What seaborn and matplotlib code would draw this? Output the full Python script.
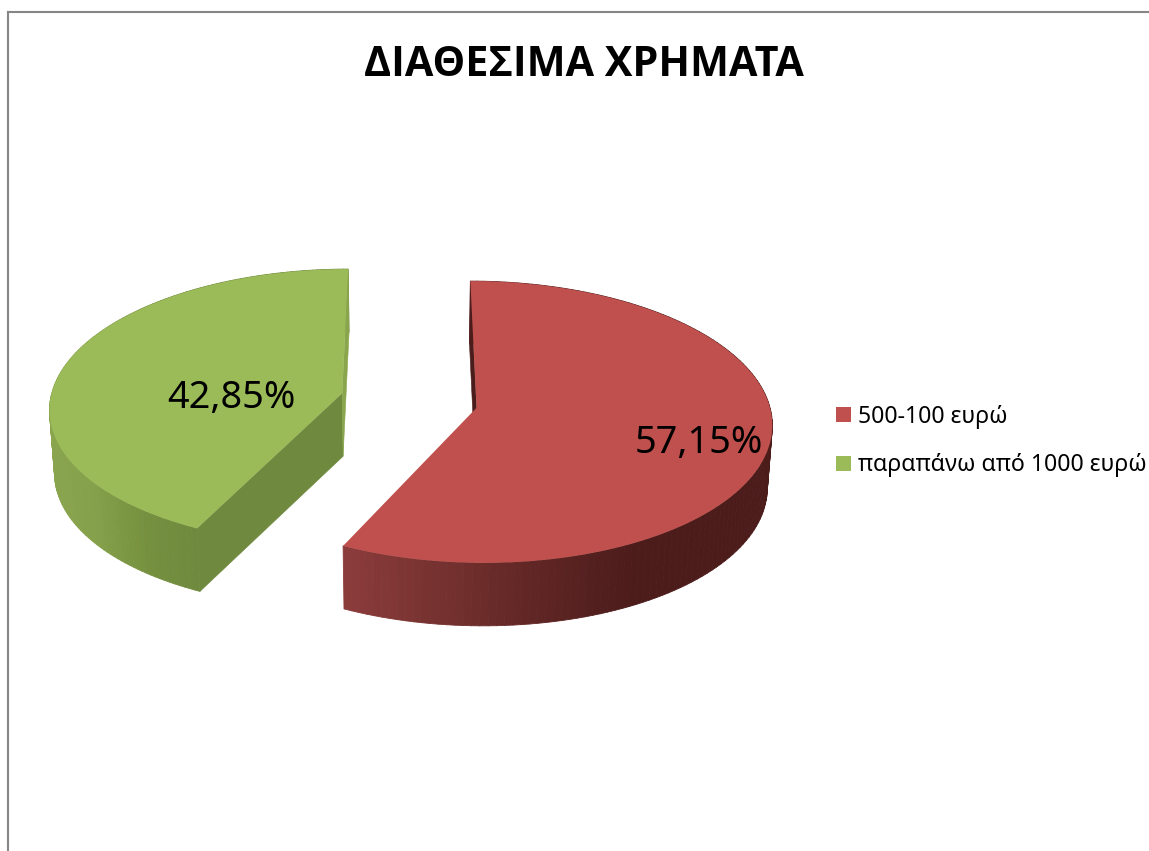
import numpy as np
import matplotlib
matplotlib.use("Agg")
import matplotlib.pyplot as plt
import seaborn as sns
from matplotlib.collections import PolyCollection
from matplotlib.colors import LinearSegmentedColormap, Normalize
from matplotlib.transforms import Transform

categories = ["500-100 ευρώ", "παραπάνω από 1000 ευρώ"]
shares = [57.15, 42.85]
title = "ΔΙΑΘΕΣΙΜΑ ΧΡΗΜΑΤΑ"

colors = sns.color_palette(["#bf504d", "#9bbb59"])
cx, cy = 409, 400.5
ra, rb = 292, 138
tilt = 0.10
depth = 63
shrink = 0.986


def project(xy, low=False):
    xy = np.asarray(xy, dtype=float)
    w = 1 + tilt * xy[:, 1]
    s = shrink if low else 1.0
    dy = depth if low else 0
    return np.column_stack([cx + ra * s * xy[:, 0] / w, cy - rb * xy[:, 1] / w + dy])


class Tilted(Transform):
    input_dims = 2
    output_dims = 2
    is_affine = False

    def transform_non_affine(self, values):
        return project(values)


def rim(wedge, theta):
    t = np.radians(np.atleast_1d(theta))
    return np.column_stack([wedge.center[0] + np.cos(t), wedge.center[1] + np.sin(t)])


def side_quad(p, q):
    top = project([p, q])
    low = project([p, q], low=True)
    return [top[0], top[1], low[1], low[0]]


sns.set_theme(style="white")
plt.rcParams["font.family"] = ["Noto Sans", "DejaVu Sans"]

fig = plt.figure(figsize=(11.49, 8.51), dpi=100)
ax = fig.add_axes([8 / 1149, 0, 1141 / 1149, 839 / 851])

wedges, _, autotexts = ax.pie(
    shares,
    explode=[0.236, 0.236],
    colors=colors,
    startangle=90,
    counterclock=False,
    autopct=lambda p: f"{p:.2f}".replace(".", ",") + "%",
    wedgeprops={"linewidth": 0},
)
ax.set_aspect("auto")
ax.set_xlim(8, 1149)
ax.set_ylim(851, 12)

# the top faces come from the pie, only bent into perspective
for w in wedges:
    w.set_transform(Tilted() + ax.transData)
    w.set_zorder(3)

# outer wall, shaded by its position across the page
side_cmaps = [
    LinearSegmentedColormap.from_list("r", ["#8a3c3b", "#6a2b29", "#4c1c1b", "#4c1c1b"]),
    LinearSegmentedColormap.from_list("g", ["#8aa54e", "#84a04a", "#76903f", "#6f8a3e"]),
]
side_spans = [(348, 771), (50, 196)]
for w, cmap, span in zip(wedges, side_cmaps, side_spans):
    angles = np.linspace(w.theta1, w.theta2, 140)
    pts = rim(w, angles)
    quads = [side_quad(pts[i], pts[i + 1]) for i in range(len(pts) - 1)]
    mids = [np.mean(q, axis=0)[0] for q in quads]
    facecolors = cmap(Normalize(*span)(mids))
    ax.add_collection(
        PolyCollection(quads, facecolors=facecolors, edgecolors=facecolors, linewidths=0.6, zorder=1)
    )

# cut faces
red, green = wedges
cuts = [
    (red, red.theta2, "#4a1c1b"),
    (green, green.theta2, "#6f8a3e"),
    (green, green.theta1, "#8aa64c"),
]
for w, theta, col in cuts:
    quad = side_quad(np.array(w.center), rim(w, theta)[0])
    ax.fill(*zip(*quad), color=col, lw=0.4, zorder=2)

label_pos = [(699, 443), (231, 398)]
for t, pos in zip(autotexts, label_pos):
    t.set_position(pos)
    t.set_fontsize(27.3)
    t.set_color("black")
    t.set_zorder(5)
    t.set_ha("center")
    t.set_va("center")

ax.text(584, 65, title, fontsize=29.7, fontweight="bold", family="Open Sans", color="black", ha="center", va="center")

ax.legend(
    wedges,
    categories,
    loc="center left",
    bbox_to_anchor=(0.7257, 0.4887),
    frameon=False,
    fontsize=16.6,
    labelcolor="black",
    handlelength=0.65,
    handleheight=0.65,
    handletextpad=0.3,
    labelspacing=1.08,
    borderpad=0,
    borderaxespad=0,
)

ax.set_frame_on(True)
for name, spine in ax.spines.items():
    spine.set_visible(name in ("left", "top"))
    spine.set_color("#868686")
    spine.set_linewidth(1.5)

fig.savefig("out.png", dpi=100, facecolor="white")
